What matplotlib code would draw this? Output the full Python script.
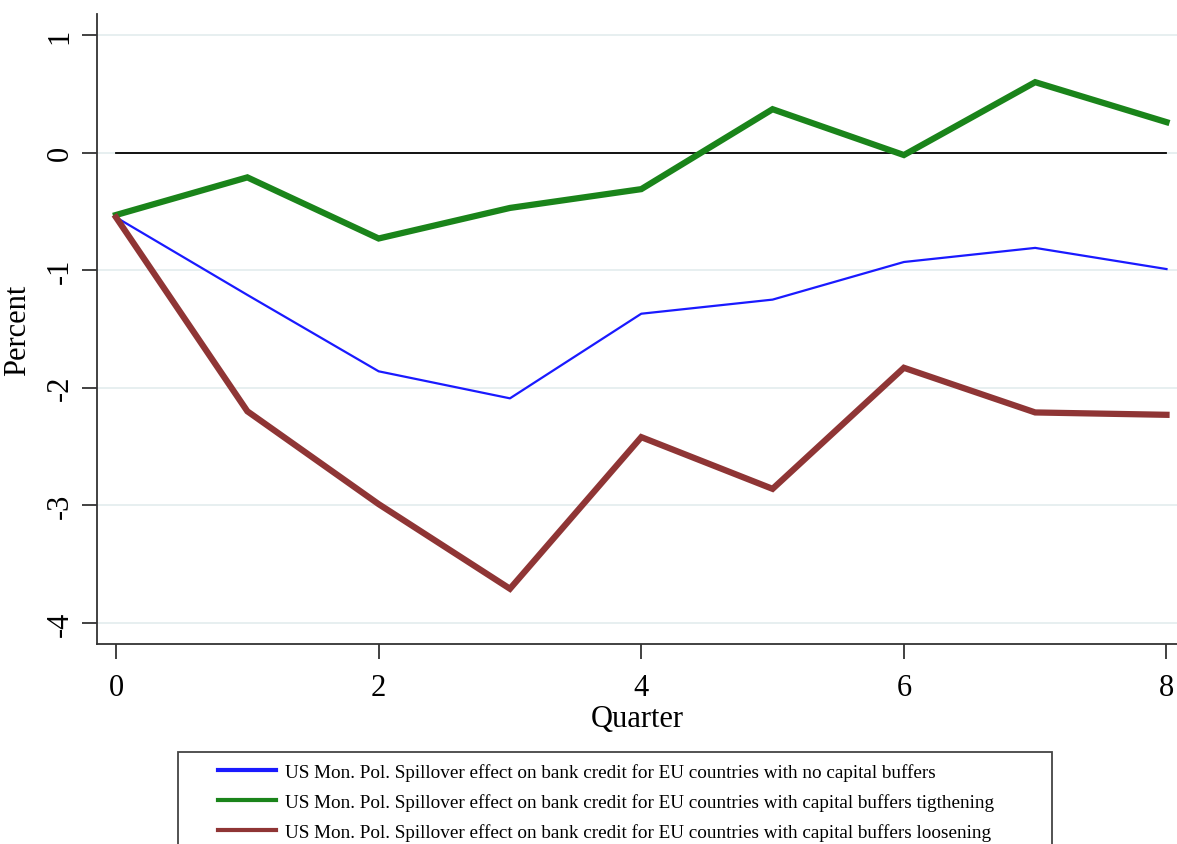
import matplotlib.pyplot as plt
from matplotlib.patches import Rectangle

plt.rcParams['font.family'] = ['Liberation Serif', 'DejaVu Serif']
plt.rcParams['axes.unicode_minus'] = False

quarters = [0, 1, 2, 3, 4, 5, 6, 7, 8]
no_buffers = [-0.55, -1.21, -1.86, -2.09, -1.37, -1.25, -0.93, -0.81, -0.99]
tightening = [-0.53, -0.21, -0.73, -0.47, -0.31, 0.37, -0.02, 0.60, 0.26]
loosening = [-0.55, -2.20, -2.99, -3.71, -2.42, -2.86, -1.83, -2.21, -2.23]

labels = [
    "US Mon. Pol. Spillover effect on bank credit for EU countries with no capital buffers",
    "US Mon. Pol. Spillover effect on bank credit for EU countries with capital buffers tigthening",
    "US Mon. Pol. Spillover effect on bank credit for EU countries with capital buffers loosening",
]

W, H = 1177, 845
fig = plt.figure(figsize=(W / 100, H / 100), dpi=100)
ax = fig.add_axes([97 / W, 1 - 645 / H, (1177 - 97) / W, (645 - 15) / H])

ax.set_yticks([1, 0, -1, -2, -3, -4])
ax.set_xticks([0, 2, 4, 6, 8])
ax.grid(axis='y', color='#e3ecee', linewidth=1.2)
ax.set_axisbelow(True)

ax.plot([0, 8], [0, 0], color='black', linewidth=1.3, zorder=2)
l1, = ax.plot(quarters, no_buffers, color='#1a1aff', linewidth=1.6, zorder=3)
l2, = ax.plot(quarters, tightening, color='#1a841a', linewidth=4.5, zorder=3,
              solid_joinstyle='miter')
l3, = ax.plot(quarters, loosening, color='#8f3535', linewidth=4.5, zorder=3,
              solid_joinstyle='miter')

ax.set_xlim(-0.145, 8.08)
ax.set_ylim(-4.18, 1.18)

for s in ['top', 'right']:
    ax.spines[s].set_visible(False)
for s in ['left', 'bottom']:
    ax.spines[s].set_color('#333333')
    ax.spines[s].set_linewidth(1.3)

ax.tick_params(axis='both', direction='out', length=11, width=1.3, color='#333333',
               labelsize=22)
ax.tick_params(axis='x', pad=10)
ax.tick_params(axis='y', pad=5)
for t in ax.get_yticklabels():
    t.set_rotation(90)
    t.set_va('center')

ax.set_xlabel("Quarter", fontsize=22, labelpad=1)
ax.set_ylabel("Percent", fontsize=22, labelpad=10)

# legend box (runs off the bottom of the figure)
box = Rectangle((178 / W, 1 - 870 / H), (1052 - 178) / W, (870 - 753) / H,
                transform=fig.transFigure, fill=False, edgecolor='#444444', linewidth=1.3)
fig.patches.append(box)
fig.legend([l1, l2, l3], labels, loc='upper left', bbox_to_anchor=(218 / W, 1 - 764 / H),
           frameon=False, fontsize=13.8, handlelength=3.0, handletextpad=0.5,
           labelspacing=0.64, borderpad=0, borderaxespad=0)
for h in fig.legends[0].get_lines():
    h.set_linewidth(3)

plt.savefig("out.png", dpi=100)
